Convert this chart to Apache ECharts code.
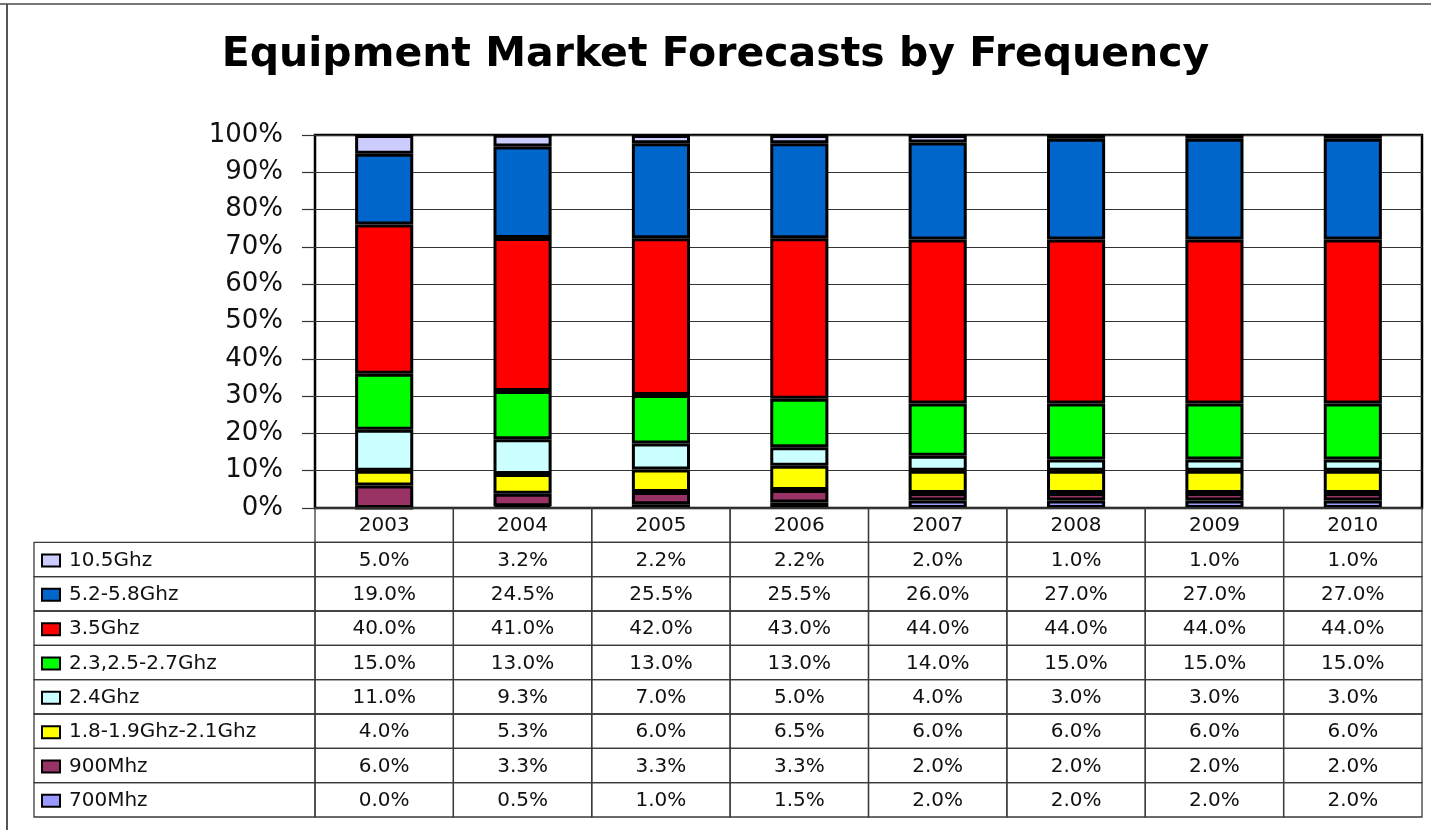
<!DOCTYPE html>
<html>
<head>
<meta charset="utf-8">
<script src="https://cdn.jsdelivr.net/npm/echarts@6/dist/echarts.min.js"></script>
<style>
html,body{margin:0;padding:0;background:#fff;}
#c{width:1431px;height:830px;}
</style>
</head>
<body>
<div id="c"></div>
<script>
// ---- data ----
var years = ['2003','2004','2005','2006','2007','2008','2009','2010'];
// stacking order: bottom to top
var seriesNames = ['700Mhz','900Mhz','1.8-1.9Ghz-2.1Ghz','2.4Ghz','2.3,2.5-2.7Ghz','3.5Ghz','5.2-5.8Ghz','10.5Ghz'];
var s700   = [0.0, 0.5, 1.0, 1.5, 2.0, 2.0, 2.0, 2.0];
var s900   = [6.0, 3.3, 3.3, 3.3, 2.0, 2.0, 2.0, 2.0];
var s18    = [4.0, 5.3, 6.0, 6.5, 6.0, 6.0, 6.0, 6.0];
var s24    = [11.0, 9.3, 7.0, 5.0, 4.0, 3.0, 3.0, 3.0];
var s23    = [15.0, 13.0, 13.0, 13.0, 14.0, 15.0, 15.0, 15.0];
var s35    = [40.0, 41.0, 42.0, 43.0, 44.0, 44.0, 44.0, 44.0];
var s52    = [19.0, 24.5, 25.5, 25.5, 26.0, 27.0, 27.0, 27.0];
var s105   = [5.0, 3.2, 2.2, 2.2, 2.0, 1.0, 1.0, 1.0];
var seriesValues = [s700, s900, s18, s24, s23, s35, s52, s105];
var seriesColors = ['#9999FF','#993366','#FFFF00','#CCFFFF','#00FF00','#FF0000','#0066CC','#CCCCFF'];
var yTicks = [0,10,20,30,40,50,60,70,80,90,100];
var titleText = 'Equipment Market Forecasts by Frequency';

// ---- layout constants ----
var FONT = 'DejaVu Sans';
var TABLE_LEFT = 34;
var TABLE_FONT = '20px "' + FONT + '"';

var chart = echarts.init(document.getElementById('c'));

// table rows: header then series in reverse order (top series first)
var tableRows = ['hdr'];
for (var i = seriesNames.length - 1; i >= 0; i--) tableRows.push(i);
var tableData = [];
for (var r = 0; r < tableRows.length; r++) {
  for (var c = 0; c < years.length; c++) tableData.push([c, r]);
}

function renderCell(params, api) {
  var c = api.value(0), r = api.value(1);
  var pt = api.coord([c, r]);
  var sz = api.size([1, 1]);
  var x = pt[0] - sz[0] / 2, y = pt[1] - sz[1] / 2, w = sz[0], h = sz[1];
  var children = [{
    type: 'rect', shape: {x: x, y: y, width: w, height: h},
    style: {fill: 'none', stroke: '#3a3a3a', lineWidth: 1.3}, z2: 1
  }];
  var txt;
  if (r === 0) {
    txt = years[c];
  } else {
    var si = tableRows[r];
    txt = seriesValues[si][c].toFixed(1) + '%';
  }
  children.push({
    type: 'text', style: {
      x: pt[0], y: pt[1] + 1, text: txt, fill: '#111', font: TABLE_FONT,
      align: 'center', verticalAlign: 'middle'
    }, z2: 2
  });
  if (c === 0 && r > 0) {
    var si2 = tableRows[r];
    var cs = params.coordSys;
    children.push({
      type: 'rect', shape: {x: TABLE_LEFT, y: y, width: cs.x - TABLE_LEFT, height: h},
      style: {fill: 'none', stroke: '#3a3a3a', lineWidth: 1.3}, z2: 1
    });
    children.push({
      type: 'rect', shape: {x: TABLE_LEFT + 8, y: pt[1] - 5, width: 18, height: 12},
      style: {fill: seriesColors[si2], stroke: '#000', lineWidth: 2}, z2: 2
    });
    children.push({
      type: 'text', style: {
        x: TABLE_LEFT + 35, y: pt[1] + 1, text: seriesNames[si2], fill: '#111',
        font: TABLE_FONT, align: 'left', verticalAlign: 'middle'
      }, z2: 2
    });
  }
  return {type: 'group', children: children};
}

var series = seriesNames.map(function (n, i) {
  return {
    name: n, type: 'bar', stack: 'total', xAxisIndex: 0, yAxisIndex: 0,
    data: seriesValues[i], barWidth: '42%',
    itemStyle: {color: seriesColors[i], borderColor: '#000', borderWidth: 3},
    emphasis: {disabled: true}
  };
});
series.push({
  type: 'custom', xAxisIndex: 1, yAxisIndex: 1, data: tableData,
  renderItem: renderCell, silent: true, clip: false
});

chart.setOption({
  animation: false,
  backgroundColor: '#fff',
  title: {
    text: titleText, left: 'center', top: 30,
    textStyle: {fontFamily: 'DejaVu Sans', fontWeight: 'bold', fontSize: 41, color: '#000'}
  },
  grid: [
    {left: 315, right: 9, top: 135, bottom: 322, show: true, borderColor: '#000', borderWidth: 2.5, backgroundColor: '#fff'},
    {left: 315, right: 9, top: 508, bottom: 13}
  ],
  xAxis: [
    {type: 'category', gridIndex: 0, data: years, axisLabel: {show: false}, axisTick: {show: false}, axisLine: {show: false}},
    {type: 'category', gridIndex: 1, data: years, axisLabel: {show: false}, axisTick: {show: false}, axisLine: {show: false}}
  ],
  yAxis: [
    {
      type: 'value', gridIndex: 0, min: 0, max: 100, interval: 10,
      axisLine: {show: false},
      axisTick: {show: true, length: 13, lineStyle: {color: '#333', width: 1.2}},
      splitLine: {show: true, lineStyle: {color: '#333', width: 1.2}},
      axisLabel: {formatter: function (v) { return yTicks.indexOf(v) >= 0 ? v + '%' : ''; }, fontFamily: FONT, fontSize: 26, color: '#111', margin: 32}
    },
    {
      type: 'category', gridIndex: 1, inverse: true, data: tableRows.map(String),
      axisLabel: {show: false}, axisTick: {show: false}, axisLine: {show: false}, splitLine: {show: false}
    }
  ],
  graphic: [
    {type: 'line', shape: {x1: 0, y1: 4, x2: 1431, y2: 4}, style: {stroke: '#777', lineWidth: 2}},
    {type: 'line', shape: {x1: 7, y1: 4, x2: 7, y2: 830}, style: {stroke: '#555', lineWidth: 2}}
  ],
  series: series
});
</script>
</body>
</html>
